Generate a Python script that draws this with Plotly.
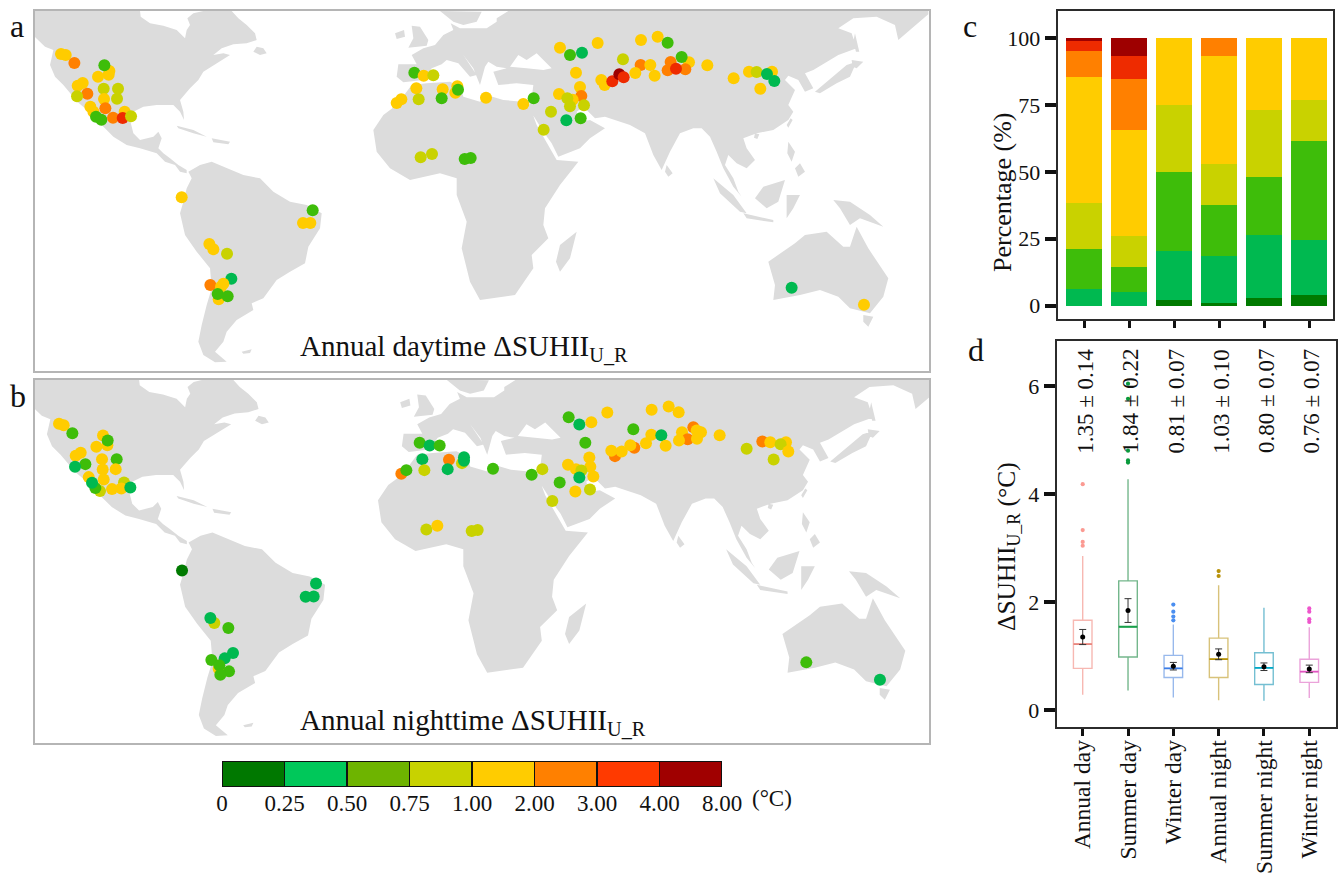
import plotly.graph_objects as go

W, H = 1341, 877
FONT = "Liberation Serif"

# Map-grid coordinates (easting, northing; northing grows southward)
LAND = [
 # North America
 [(14,18),(330,18),(332,35),(360,55),(400,62),(440,75),(465,100),(470,75),(480,60),(472,40),(490,25),(520,18),(605,18),(625,40),(650,60),(675,85),(680,105),(650,115),(610,118),(575,130),(550,150),(580,145),(600,150),(560,175),(520,200),(505,225),(480,250),(450,285),(460,320),(462,345),(450,320),(430,300),(380,300),(340,305),(310,320),(300,345),(310,385),(330,405),(370,395),(385,380),(395,400),(385,430),(400,445),(420,460),(445,480),(470,495),(470,505),(450,500),(435,480),(405,470),(380,445),(330,430),(290,420),(250,395),(215,360),(190,340),(165,310),(135,285),(125,270),(100,240),(75,215),(60,180),(70,135),(45,125),(14,95)],
 # Newfoundland, Cuba, Hispaniola
 [(680,125),(700,130),(710,145),(690,150),(670,140)],
 [(440,362),(490,375),(530,395),(490,385),(445,370)],
 [(545,400),(600,410),(595,418),(550,412)],
 # South America
 [(475,500),(510,480),(545,470),(590,490),(640,510),(690,520),(730,560),(780,590),(830,600),(875,625),(870,670),(835,725),(825,775),(780,800),(740,825),(700,880),(665,895),(670,915),(620,945),(590,980),(580,1010),(555,1040),(590,1070),(555,1072),(520,1050),(505,1010),(515,960),(530,900),(545,850),(540,790),(500,740),(465,690),(450,625),(460,590),(470,550),(485,520)],
 [(635,1040),(665,1033),(660,1044),(640,1046)],
 # Eurasia
 [(1105,178),(1160,178),(1145,150),(1180,130),(1215,120),(1240,90),(1270,75),(1262,55),(1290,70),(1340,70),(1370,70),(1400,50),(1400,40),(1435,18),(2695,18),(2695,28),(2640,75),(2605,105),(2595,60),(2540,35),(2470,40),(2425,70),(2465,85),(2480,130),(2425,150),(2350,195),(2325,205),(2350,250),(2325,260),(2305,225),(2275,212),(2265,225),(2295,255),(2275,300),(2290,320),(2275,345),(2230,375),(2180,385),(2140,400),(2150,430),(2175,465),(2150,490),(2120,475),(2095,450),(2085,480),(2110,520),(2125,560),(2135,575),(2110,545),(2080,490),(2060,440),(2040,395),(2015,370),(1990,370),(1950,385),(1920,440),(1895,495),(1870,450),(1845,385),(1800,360),(1725,335),(1695,340),(1660,305),(1640,320),(1650,350),(1680,345),(1725,370),(1680,400),(1650,430),(1585,455),(1565,415),(1540,380),(1515,340),(1495,310),(1505,280),(1510,240),(1460,235),(1405,240),(1390,200),(1430,190),(1400,185),(1375,170),(1365,185),(1350,240),(1330,190),(1300,150),(1340,210),(1320,215),(1285,175),(1250,165),(1235,178),(1205,190),(1180,225),(1120,232),(1100,215)],
 # Scandinavia, Britain, Ireland
 [(1230,18),(1270,50),(1300,60),(1340,50),(1355,20)],
 [(1145,62),(1170,65),(1195,105),(1190,122),(1135,128),(1150,100)],
 [(1095,85),(1122,75),(1125,95),(1100,102)],
 # Africa
 [(1100,300),(1145,240),(1190,235),(1260,230),(1290,245),(1300,275),(1350,290),(1370,270),(1420,285),(1495,292),(1520,360),(1555,420),(1580,465),(1645,470),(1590,540),(1545,610),(1540,660),(1555,700),(1505,750),(1510,790),(1455,870),(1350,885),(1320,830),(1295,730),(1310,650),(1280,570),(1280,520),(1230,505),(1140,525),(1080,490),(1040,440),(1030,375),(1060,330)],
 # Madagascar, Sri Lanka, Hainan, Taiwan
 [(1640,680),(1620,760),(1590,800),(1578,770),(1590,720)],
 [(1910,480),(1928,505),(1915,515),(1905,500)],
 [(2175,385),(2188,388),(2182,402),(2172,398)],
 [(2282,340),(2288,345),(2275,368),(2270,360)],
 # Japan, Sakhalin
 [(2480,170),(2460,215),(2420,235),(2370,265),(2355,260),(2410,215),(2450,180)],
 [(2465,165),(2500,170),(2480,190),(2468,185)],
 [(2475,85),(2488,140),(2478,140),(2470,110)],
 # Philippines, Borneo, Sumatra, Java, Sulawesi, New Guinea
 [(2275,410),(2295,440),(2285,470),(2272,445)],
 [(2310,475),(2325,500),(2305,515),(2295,490)],
 [(2265,525),(2245,590),(2210,610),(2175,580),(2200,545),(2230,535)],
 [(2050,520),(2110,570),(2150,625),(2130,620),(2070,565)],
 [(2140,625),(2230,645),(2230,652),(2150,640)],
 [(2270,570),(2310,570),(2290,610),(2270,640)],
 [(2410,585),(2460,590),(2520,630),(2560,665),(2490,640),(2460,660),(2430,610)],
 # Australia, Tasmania
 [(2215,770),(2295,715),(2325,690),(2390,680),(2440,725),(2460,725),(2480,665),(2515,730),(2575,820),(2560,875),(2520,925),(2460,910),(2425,875),(2370,855),(2310,870),(2230,885),(2235,840)],
 [(2500,930),(2530,935),(2515,965),(2500,950)],
]
BLACK_SEA = [(1440,185),(1465,150),(1490,165),(1520,145),(1565,190),(1540,195),(1490,190)]

EAST_OFFSET = 1350
DAY_WEST = [(93,147,4),(107,150,4),(133,174,5),(238,198,4),(236,209,4),(223,181,2),(204,215,4),(158,234,4),(143,242,4),(221,251,3),(264,251,3),(172,266,5),(141,274,3),(222,282,4),(261,281,3),(181,305,4),(190,320,4),(226,310,5),(284,320,4),(198,335,2),(214,344,2),(249,338,5),(278,339,6),(303,334,3),
 (455,577,4),(848,616,2),(819,654,4),(841,654,4),(538,717,4),(550,733,4),(591,746,3),(604,821,1),(541,840,5),(580,836,4),(573,845,4),(566,883,4),(563,867,2),(593,874,2),
 (1153,203,2),(1181,212,4),(1210,211,3),(1159,250,4),(1238,253,4),(1282,244,4),(1276,263,4),(1284,254,2),(1166,283,3),(1235,280,2),(1114,283,4),(1100,294,4),(1172,457,3),(1206,447,3),(1304,462,2),(1322,459,2)]
DAY_EAST = [(18,278,4),(130,297,4),(161,280,2),(240,128,4),(270,150,2),(306,143,1),(353,114,4),(288,203,4),(300,246,4),(237,267,4),(304,273,5),(278,284,4),(262,280,3),(270,304,3),(312,301,3),(213,320,3),(259,346,1),(302,340,2),(191,374,3),(364,225,4),(374,240,4),(397,229,6),(418,208,7),(431,217,6),(429,163,3),(482,180,5),(511,180,4),(466,204,4),(524,212,4),(483,105,4),(533,95,4),(563,113,2),(627,172,4),(605,156,2),(572,171,5),(563,196,5),(616,193,5),(588,191,6),(682,181,4),(761,220,4),(807,200,4),(876,200,4),(830,201,3),(861,207,1),(883,228,1),(841,251,4),(935,848,1),(1152,899,4)]
NIGHT_WEST = [(87,147,4),(101,151,4),(127,175,2),(219,182,4),(232,211,4),(233,197,2),(199,216,4),(152,234,4),(137,243,4),(216,253,4),(260,253,2),(166,268,2),(135,276,1),(218,284,4),(257,283,4),(176,307,4),(221,314,4),(282,323,3),(210,349,3),(196,340,2),(186,324,1),(246,343,4),(274,341,4),(301,338,1),
 (456,587,0),(858,626,1),(827,666,1),(851,665,1),(553,745,3),(541,730,1),(595,760,2),(609,835,1),(584,851,1),(544,856,2),(566,882,4),(568,872,2),(597,890,2),(571,900,2),
 (1169,204,2),(1199,212,1),(1229,212,2),(1177,253,1),(1257,255,5),(1296,265,3),(1302,247,1),(1302,258,1),(1183,286,3),(1253,283,1),(1114,297,5),(1129,286,2),(1189,464,3),(1222,453,4),(1325,469,3),(1343,466,3)]
NIGHT_EAST = [(39,282,2),(155,300,2),(187,283,3),(266,127,2),(298,149,1),(334,142,4),(382,113,4),(316,204,2),(328,248,4),(264,270,4),(331,276,4),(288,283,4),(304,287,3),(340,305,4),(298,308,1),(239,323,2),(286,350,4),(330,344,3),(217,379,3),(405,244,5),(394,228,4),(425,230,4),(463,219,5),(451,211,4),(460,163,2),(514,180,4),(544,181,1),(498,205,4),(557,213,4),(515,105,4),(566,95,4),(596,112,4),(640,157,5),(606,172,4),(623,193,5),(597,197,4),(650,167,4),(663,172,4),(651,192,4),(719,181,4),(800,222,3),(847,200,5),(871,202,4),(918,202,4),(902,208,3),(925,230,4),(881,254,3),(979,863,2),(1200,915,1)]

CLASS_COLORS = ["#007a00","#00b950","#3ebd0a","#c9d200","#ffcc00","#ff8000","#ee2b00","#9e0000"]
LEGEND_COLORS = ["#007800","#00c85a","#6eb400","#c8d200","#ffcc00","#ff8000","#ff3a00","#a00000"]
LEGEND_LABELS = ["0","0.25","0.50","0.75","1.00","2.00","3.00","4.00","8.00"]

GROUPS = ["Annual day","Summer day","Winter day","Annual night","Summer night","Winter night"]
# Percentage of cities per class, one list per class
SHARE_0 = [0,0,2,1,3,4]
SHARE_1 = [6.2,5,18.4,17.5,23.3,20.4]
SHARE_2 = [14.8,9.5,29.6,19.1,22,37.2]
SHARE_3 = [17.4,11.5,25,15.4,24.7,15.4]
SHARE_4 = [47.3,39.6,25,40.3,27,23]
SHARE_5 = [9.6,19.2,0,6.7,0,0]
SHARE_6 = [3.7,8.5,0,0,0,0]
SHARE_7 = [1,6.7,0,0,0,0]
SHARES = [SHARE_0,SHARE_1,SHARE_2,SHARE_3,SHARE_4,SHARE_5,SHARE_6,SHARE_7]

Q1 = [0.77,0.98,0.60,0.60,0.47,0.51]
MEDIAN = [1.22,1.54,0.77,0.94,0.78,0.71]
Q3 = [1.66,2.39,1.01,1.33,1.06,0.94]
LOW = [0.28,0.36,0.23,0.18,0.17,0.22]
HIGH = [2.85,4.27,1.58,2.31,1.89,1.53]
OUTLIERS = [[4.18,3.33,3.11,3.04],[4.62,4.58,4.8,5.76,6.04],[1.95,1.82,1.73,1.66],[2.57,2.48],[],[1.88,1.82,1.68,1.63]]
MEAN = [1.35,1.84,0.81,1.03,0.80,0.76]
ERR = [0.14,0.22,0.07,0.10,0.07,0.07]
MEAN_LABELS = ["1.35 ± 0.14","1.84 ± 0.22","0.81 ± 0.07","1.03 ± 0.10","0.80 ± 0.07","0.76 ± 0.07"]
BOX_LINE = ["#f7b8b2","#74b78c","#98b9ec","#d8c27a","#74bfd2","#eba3da"]
BOX_MED = ["#e8877f","#18a04a","#3a7de8","#b8950a","#00a8c6","#e055c0"]
OUT_COL = ["#fb9a92","#0a9a3c","#4a8ef0","#b8920a","#00a8c6","#ee55cc"]

def dx(a, b): return [a / W, b / W]
def dy(top, bottom): return [1 - bottom / H, 1 - top / H]

def flatten(polys, fx=lambda e: e, fy=lambda n: n):
    xs, ys = [], []
    for p in polys:
        closed = list(p) + [p[0]]
        xs += [fx(e) for e, _ in closed] + [None]
        ys += [fy(n) for _, n in closed] + [None]
    return xs, ys

fig = go.Figure()

def add_map(axn, west, east, fx, fy):
    ax = dict(xaxis=f"x{axn}", yaxis=f"y{axn}", showlegend=False, hoverinfo="skip")
    lx, ly = flatten(LAND, fx, fy)
    fig.add_trace(go.Scatter(x=lx, y=ly, mode="lines", fill="toself", fillcolor="#dcdcdc", line=dict(width=0, color="#dcdcdc"), **ax))
    sx, sy = flatten([BLACK_SEA], fx, fy)
    fig.add_trace(go.Scatter(x=sx, y=sy, mode="lines", fill="toself", fillcolor="#ffffff", line=dict(width=0, color="#ffffff"), **ax))
    pts = [(e, n, c) for e, n, c in west] + [(e + EAST_OFFSET, n, c) for e, n, c in east]
    fig.add_trace(go.Scatter(x=[p[0] for p in pts], y=[p[1] for p in pts], mode="markers",
                             marker=dict(size=12, color=[CLASS_COLORS[p[2]] for p in pts], line=dict(width=0)), **ax))

add_map(1, DAY_WEST, DAY_EAST, lambda e: e, lambda n: n)
# Panel b is printed at a slightly larger scale than panel a
add_map(2, NIGHT_WEST, NIGHT_EAST, lambda e: 450 + (e - 450) * 1.024, lambda n: 474 + (n - 471) * 1.015)

# Panel c
xs = list(range(1, 7))
for s, col in zip(SHARES, CLASS_COLORS):
    fig.add_trace(go.Bar(x=xs, y=s, marker=dict(color=col, line=dict(width=0)), width=0.8,
                         xaxis="x3", yaxis="y3", showlegend=False))

# Panel d
for i, g in enumerate(GROUPS):
    x = i + 1
    fig.add_trace(go.Box(x=[x], q1=[Q1[i]], median=[MEDIAN[i]], q3=[Q3[i]], lowerfence=[LOW[i]], upperfence=[HIGH[i]],
                         width=0.41, whiskerwidth=0, fillcolor="rgba(255,255,255,0)", line=dict(color=BOX_LINE[i], width=1.4),
                         boxpoints=False, xaxis="x4", yaxis="y4", showlegend=False, name=g))
    fig.add_trace(go.Scatter(x=[x - 0.205, x + 0.205], y=[MEDIAN[i], MEDIAN[i]], mode="lines",
                             line=dict(color=BOX_MED[i], width=1.8), xaxis="x4", yaxis="y4", showlegend=False))
    if OUTLIERS[i]:
        fig.add_trace(go.Scatter(x=[x] * len(OUTLIERS[i]), y=OUTLIERS[i], mode="markers",
                                 marker=dict(size=4.2, color=OUT_COL[i]), xaxis="x4", yaxis="y4", showlegend=False))
fig.add_trace(go.Scatter(x=xs, y=MEAN, mode="markers", marker=dict(size=5, color="#000000"),
                         error_y=dict(type="data", array=ERR, color="#333333", thickness=1, width=3.5),
                         xaxis="x4", yaxis="y4", showlegend=False))

# Legend strip
for i, col in enumerate(LEGEND_COLORS):
    fig.add_trace(go.Bar(x=[1], base=[i], y=[0], orientation="h", marker=dict(color=col, line=dict(color="#111111", width=1.2)),
                         width=1, xaxis="x5", yaxis="y5", showlegend=False))

map_ax = dict(showgrid=False, zeroline=False, showticklabels=False, ticks="", showline=True, mirror=True, linecolor="#b5b5b5", linewidth=1.5)
ink = "#2b2b2b"
stat_ax = dict(showgrid=False, zeroline=False, showline=True, mirror=True, linecolor=ink, linewidth=2,
               ticks="outside", tickcolor="#111111", tickfont=dict(family=FONT, size=22, color="#111111"))

fig.update_layout(
    width=W, height=H, margin=dict(l=0, r=0, t=0, b=0, autoexpand=False), paper_bgcolor="white", plot_bgcolor="white",
    font=dict(family=FONT, color="#111111"), barmode="stack", bargap=0.2,
    xaxis=dict(domain=dx(34.7, 929.3), range=[14, 2698], anchor="y", **map_ax),
    yaxis=dict(domain=dy(11, 371), range=[1098, 18], anchor="x", **map_ax),
    xaxis2=dict(domain=dx(34.7, 929.3), range=[14, 2698], anchor="y2", **map_ax),
    yaxis2=dict(domain=dy(379.5, 743), range=[1105, 14], anchor="x2", **map_ax),
    xaxis3=dict(domain=dx(1057.7, 1332.7), range=[0.415, 6.52], anchor="y3", tickvals=xs, showticklabels=False, ticklen=7, tickwidth=2.5, **stat_ax),
    yaxis3=dict(domain=dy(11, 319), range=[-5, 110.2], anchor="x3", tickvals=[0, 25, 50, 75, 100], ticklen=11, tickwidth=3.5, **stat_ax),
    xaxis4=dict(domain=dx(1056.7, 1336), range=[0.426, 6.59], anchor="y4", tickvals=xs, ticktext=GROUPS, tickangle=-90, ticklen=7, tickwidth=2.5, ticklabelstandoff=-5, **{**stat_ax, "tickfont": dict(family=FONT, size=23.5, color="#111111")}),
    yaxis4=dict(domain=dy(341, 726.7), range=[-0.31, 6.83], anchor="x4", tickvals=[0, 2, 4, 6], ticklen=11, tickwidth=3.5, **stat_ax),
    xaxis5=dict(domain=dx(222, 722), range=[0, 8], anchor="y5", tickvals=list(range(9)), ticktext=LEGEND_LABELS, ticks="", showgrid=False, zeroline=False,
                showline=False, tickfont=dict(family=FONT, size=23, color="#111111")),
    yaxis5=dict(domain=dy(761, 787), range=[-0.5, 0.5], anchor="x5", showticklabels=False, ticks="", showgrid=False, zeroline=False, showline=False),
)

def note(text, px, py, size, angle=0, xanchor="center", yanchor="middle"):
    fig.add_annotation(text=text, x=px / W, y=1 - py / H, xref="paper", yref="paper", showarrow=False,
                       font=dict(family=FONT, size=size, color="#111111"), textangle=angle, xanchor=xanchor, yanchor=yanchor)

note("a", 8, 26, 32, xanchor="left")
note("b", 8, 396, 32, xanchor="left")
note("c", 961, 26, 32, xanchor="left")
note("d", 966, 350, 32, xanchor="left")
note("Annual daytime ΔSUHII<sub>U_R</sub>", 298, 348, 29, xanchor="left")
note("Annual nighttime ΔSUHII<sub>U_R</sub>", 298, 722, 29, xanchor="left")
note("Percentage (%)", 1002, 192, 26, angle=-90)
note("ΔSUHII<sub>U_R</sub> (°C)", 1008, 547, 25.5, angle=-90)
note("(°C)", 772, 798, 23)
for i, lab in enumerate(MEAN_LABELS):
    fig.add_annotation(text=lab, x=i + 1.07, y=5.72, xref="x4", yref="y4", showarrow=False, textangle=-90,
                       font=dict(family=FONT, size=23, color="#111111"))

fig.write_html("out.html", config={"displayModeBar": False}, post_script="document.body.style.margin='0';document.documentElement.style.overflow='hidden';")
